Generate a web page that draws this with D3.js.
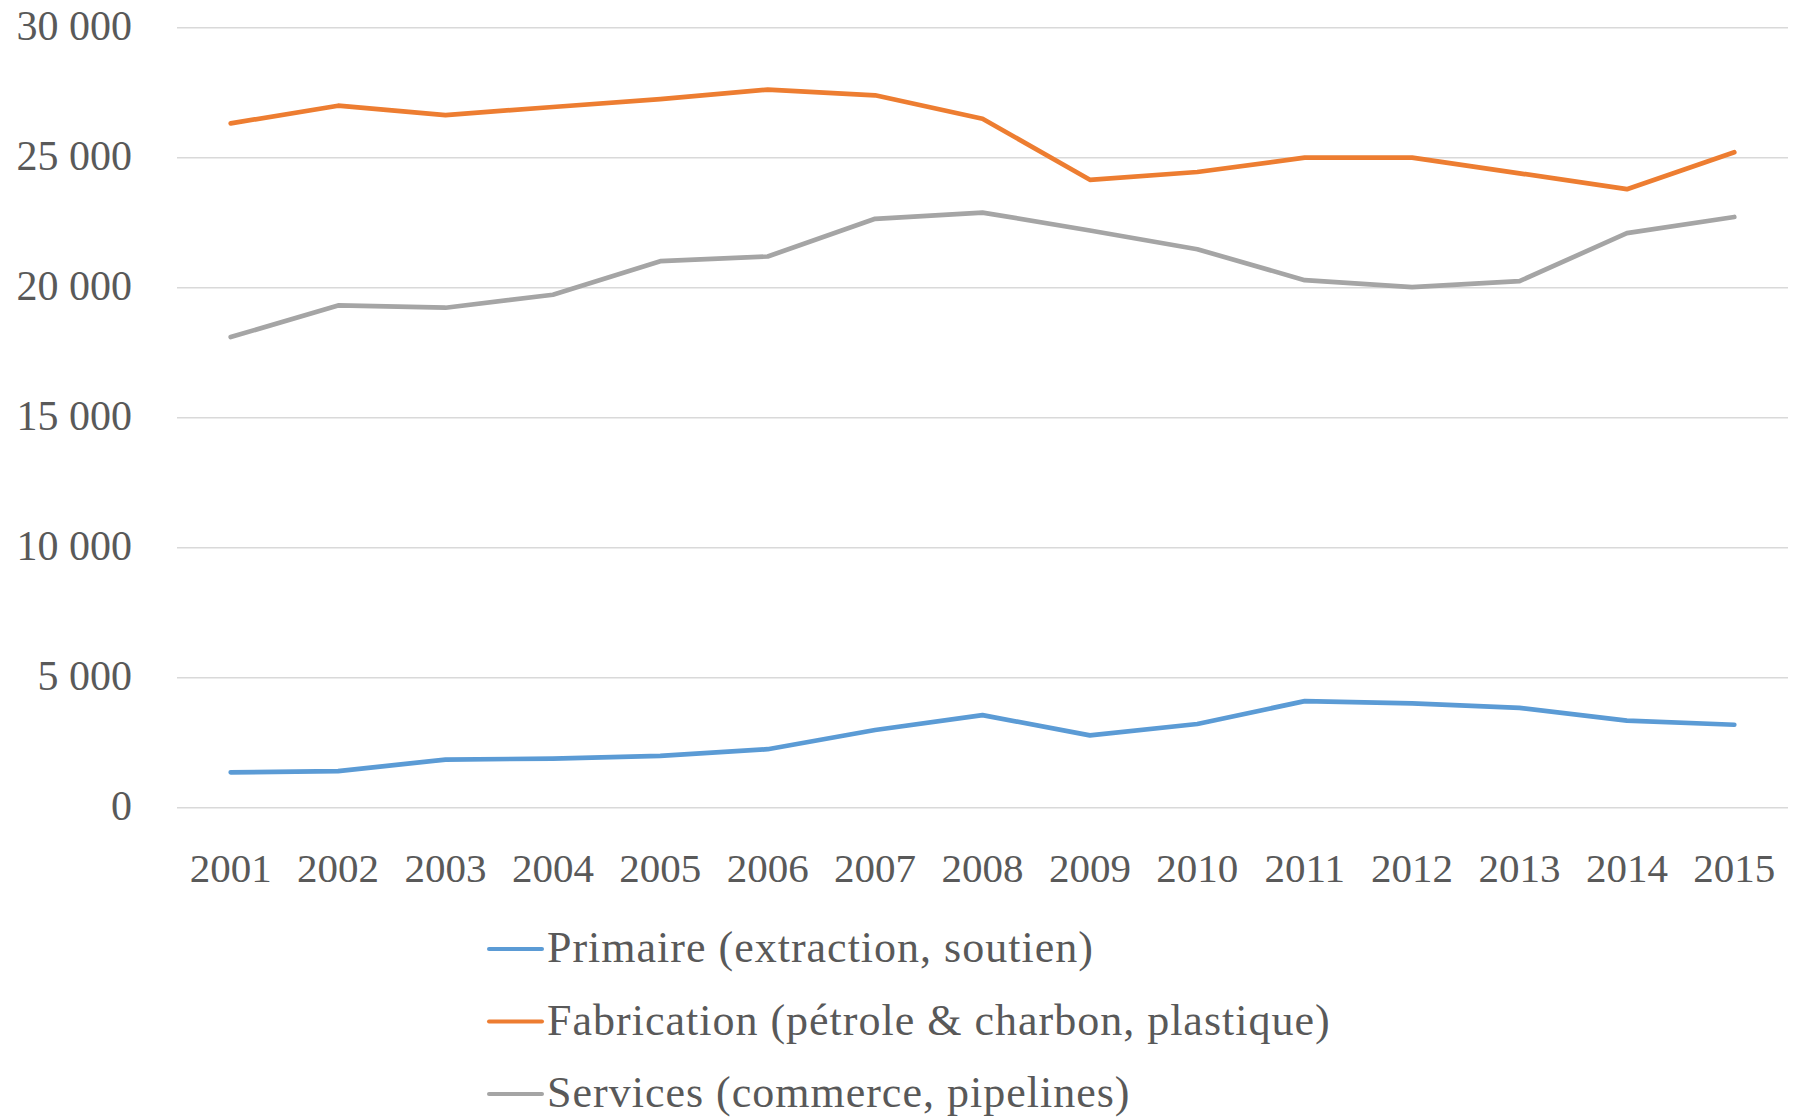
<!DOCTYPE html>
<html>
<head>
<meta charset="utf-8">
<script src="https://cdn.jsdelivr.net/npm/d3@7"></script>
<style>
  body { margin: 0; background: #fff; }
  text { font-family: "Liberation Serif", "DejaVu Serif", serif; fill: #595959; }
</style>
</head>
<body>
<svg id="chart" width="1795" height="1120"></svg>
<script>
var years = ["2001","2002","2003","2004","2005","2006","2007","2008","2009","2010","2011","2012","2013","2014","2015"];
var primaire = [1360, 1410, 1850, 1890, 1990, 2250, 2990, 3560, 2780, 3220, 4100, 4010, 3840, 3350, 3190];
var fabrication = [26320, 27000, 26640, 26950, 27250, 27620, 27400, 26500, 24150, 24450, 25000, 25000, 24400, 23790, 25210];
var services = [18100, 19320, 19230, 19730, 21020, 21200, 22650, 22890, 22200, 21480, 20290, 20020, 20250, 22100, 22720];
var yTicks = [0, 5000, 10000, 15000, 20000, 25000, 30000];
var seriesNames = ["Primaire (extraction, soutien)", "Fabrication (pétrole & charbon, plastique)", "Services (commerce, pipelines)"];
var seriesColors = ["#5B9BD5", "#ED7D31", "#A5A5A5"];

var svg = d3.select("#chart");
var plotLeft = 177, plotRight = 1788, plotTop = 27.7, plotBottom = 807.7;

var x = d3.scaleBand().domain(years).range([plotLeft, plotRight]);
var y = d3.scaleLinear().domain([0, 30000]).range([plotBottom, plotTop]);

// gridlines
svg.append("g").selectAll("line").data(yTicks).enter().append("line")
  .attr("x1", plotLeft).attr("x2", plotRight)
  .attr("y1", function(d) { return y(d); }).attr("y2", function(d) { return y(d); })
  .style("stroke", "#D9D9D9").style("stroke-width", 1.5);

// y labels
var fmt = function(d) { return d3.format(",")(d).replace(",", " "); };
svg.append("g").selectAll("text").data(yTicks).enter().append("text")
  .attr("x", 132).attr("y", function(d) { return y(d) + 12; })
  .attr("text-anchor", "end").style("font-size", "42px")
  .text(fmt);

// x labels
svg.append("g").selectAll("text").data(years).enter().append("text")
  .attr("x", function(d) { return x(d) + x.bandwidth() / 2; }).attr("y", 882)
  .attr("text-anchor", "middle").style("font-size", "41px")
  .text(function(d) { return d; });

var line = d3.line()
  .x(function(d, i) { return x(years[i]) + x.bandwidth() / 2; })
  .y(function(d) { return y(d); });

[primaire, fabrication, services].forEach(function(s, i) {
  svg.append("path").datum(s)
    .attr("d", line)
    .style("fill", "none").style("stroke", seriesColors[i])
    .style("stroke-width", 4.7).style("stroke-linecap", "round").style("stroke-linejoin", "round");
});

// legend
var legend = svg.append("g").selectAll("g").data(seriesNames).enter().append("g")
  .attr("transform", function(d, i) { return "translate(0," + (949 + i * 72.5) + ")"; });
legend.append("line").attr("x1", 489).attr("x2", 542).attr("y1", 0).attr("y2", 0)
  .style("stroke", function(d, i) { return seriesColors[i]; })
  .style("stroke-width", 4).style("stroke-linecap", "round");
legend.append("text").attr("x", 547).attr("y", 13).style("font-size", "44px")
  .style("letter-spacing", "1px")
  .text(function(d) { return d; });
</script>
</body>
</html>
